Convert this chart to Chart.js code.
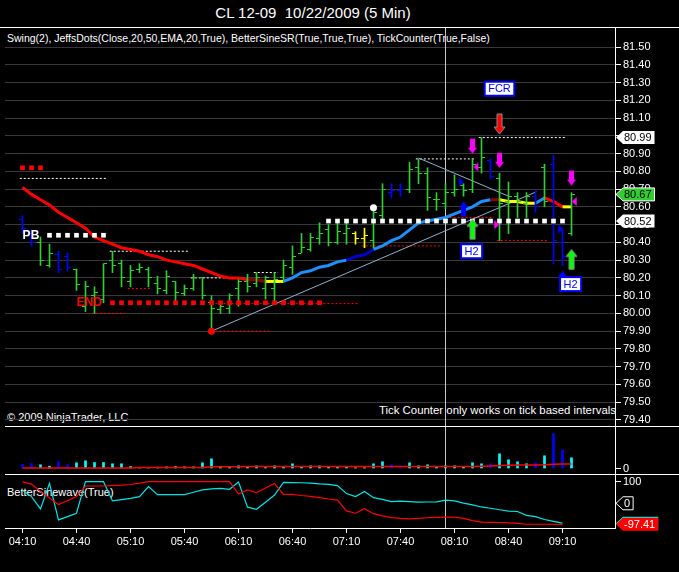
<!DOCTYPE html>
<html>
<head>
<meta charset="utf-8">
<title>CL 12-09 10/22/2009 (5 Min)</title>
<script src="https://cdn.jsdelivr.net/npm/chart.js@4.4.0/dist/chart.umd.min.js"></script>
<style>
  html, body { margin: 0; padding: 0; background: #000; }
  #wrap { position: relative; width: 679px; height: 572px; background: #000; overflow: hidden;
          font-family: "Liberation Sans", Arial, sans-serif; color: #fff; }
  #wrap canvas { position: absolute; left: 0; z-index: 1; }
  .txt { position: absolute; white-space: nowrap; font-size: 11px; line-height: 13px; z-index: 0; }
  .rule { position: absolute; height: 1px; background: #fff; z-index: 2; }
</style>
</head>
<body>
<div id="wrap">
  <div class="txt" style="left:0;width:626px;top:4px;font-size:15px;line-height:18px;text-align:center">CL 12-09&nbsp; 10/22/2009 (5 Min)</div>
  <div class="rule" style="left:0;width:679px;top:27px"></div>
  <div class="txt" style="left:7px;top:32px;font-size:10.5px">Swing(2), JeffsDots(Close,20,50,EMA,20,True), BetterSineSR(True,True,True), TickCounter(True,False)</div>
  <div class="txt" style="left:7px;top:411px">© 2009 NinjaTrader, LLC</div>
  <div class="txt" style="left:379px;width:240px;top:404px;font-size:11.4px;overflow:hidden">Tick Counter only works on tick based intervals</div>
  <div class="rule" style="left:5px;width:674px;top:426px"></div>
  <div class="rule" style="left:5px;width:674px;top:474px"></div>
  <div class="txt" style="left:7px;top:486px">BetterSinewave(True)</div>
  <canvas id="main" width="679" height="398" style="top:28px"></canvas>
  <canvas id="vol" width="679" height="47" style="top:427px"></canvas>
  <canvas id="sine" width="679" height="97" style="top:475px"></canvas>
</div>
<script>
Chart.defaults.font.family = '"Liberation Sans", Arial, sans-serif';
Chart.defaults.font.size = 11;
Chart.defaults.color = '#fff';

// --- datos de las barras (5 min, 04:10 .. 09:15) ---
const opens = [80.53,80.45,80.40,80.27,80.33,80.32,80.25,80.04,80.10,80.08,
  80.30,80.28,80.18,80.25,80.25,80.17,80.13,80.18,80.11,80.14,
  80.20,80.06,80.02,80.03,80.14,80.18,80.17,80.14,80.14,80.20,
  80.26,80.34,80.36,80.42,80.47,80.40,80.45,80.45,80.42,80.41,
  80.55,80.68,80.69,80.70,80.82,80.79,80.64,80.62,80.68,80.72,
  80.70,80.82,80.86,80.76,80.63,80.66,80.62,80.66,80.82,80.84,
  80.40,80.45];
const highs = [80.55,80.47,80.43,80.39,80.35,80.34,80.25,80.18,80.15,80.28,
  80.35,80.30,80.27,80.28,80.26,80.21,80.24,80.18,80.16,80.22,
  80.20,80.10,80.06,80.11,80.19,80.22,80.23,80.21,80.23,80.30,
  80.38,80.45,80.45,80.51,80.50,80.53,80.51,80.46,80.48,80.59,
  80.73,80.73,80.73,80.85,80.87,80.82,80.68,80.73,80.78,80.73,
  80.87,80.99,80.87,80.79,80.74,80.68,80.68,80.69,80.84,80.89,
  80.47,80.68];
const lows = [80.45,80.38,80.27,80.26,80.23,80.24,80.13,80.01,80.00,80.06,
  80.23,80.15,80.15,80.23,80.15,80.11,80.11,80.06,80.10,80.13,
  80.08,79.90,80.00,80.00,80.04,80.12,80.15,80.08,80.06,80.19,
  80.22,80.34,80.35,80.39,80.38,80.39,80.39,80.39,80.37,80.37,
  80.53,80.65,80.66,80.68,80.73,80.58,80.58,80.59,80.66,80.66,
  80.68,80.79,80.76,80.41,80.45,80.54,80.54,80.57,80.60,80.28,
  80.27,80.44];
const closes = [80.48,80.40,80.30,80.34,80.25,80.26,80.16,80.15,80.12,80.28,
  80.27,80.20,80.24,80.26,80.20,80.14,80.21,80.12,80.14,80.20,
  80.10,80.03,80.04,80.10,80.18,80.15,80.20,80.20,80.19,80.27,
  80.32,80.37,80.43,80.45,80.40,80.46,80.48,80.42,80.44,80.57,
  80.70,80.69,80.70,80.81,80.79,80.65,80.64,80.68,80.70,80.69,
  80.84,80.88,80.77,80.62,80.66,80.63,80.66,80.60,80.63,80.41,
  80.32,80.67];
// estado de color de cada barra: g verde, b azul, y amarillo
const barState = ('bbggbbgggg' + 'gggggggggg' + 'gggggggggg' + 'gggggggyyg' +
  'gbbggggggg' + 'ggbggggbgb' + 'bg').split('');

// media (JeffsDots) y estado de cada tramo
const ema = [80.71,80.67,80.64,80.61,80.57,80.54,80.51,80.48,80.43,80.41,
  80.39,80.37,80.36,80.35,80.33,80.32,80.30,80.29,80.28,80.27,
  80.25,80.23,80.21,80.20,80.20,80.19,80.19,80.18,80.18,80.18,
  80.20,80.23,80.24,80.26,80.27,80.29,80.30,80.32,80.33,80.36,
  80.38,80.41,80.43,80.47,80.51,80.52,80.53,80.54,80.56,80.58,
  80.60,80.63,80.64,80.64,80.63,80.63,80.62,80.62,80.65,80.63,
  80.60,80.60];
const emaState = ('RRRRRRRRRR' + 'RRRRRRRRRR' + 'RRRRRrrYYB' + 'BBBBBBbbbB' +
  'BBBBBBBBBB' + 'BBrYYYYBRR' + 'Y-').split('');

// puntos grandes (nivel por barra) y su color
const dotLevel = [80.82,80.82,80.82,80.44,80.44,80.44,80.44,80.44,80.44,80.44,
  80.06,80.06,80.06,80.06,80.06,80.06,80.06,80.06,80.06,80.06,
  80.06,80.06,80.06,80.06,80.06,80.06,80.06,80.06,80.06,80.06,
  80.06,80.06,80.06,80.06,80.52,80.52,80.52,80.52,80.52,80.52,
  80.52,80.52,80.52,80.52,80.52,80.52,80.52,80.52,80.52,80.52,
  80.52,80.52,80.52,80.52,80.52,80.52,80.52,80.52,80.52,80.52,
  80.52,null];
const dotKind = ('rrrwwwwwww' + 'rrrrrrrrrr' + 'rrrrrrrrrr' + 'rrrrwwwwww' +
  'wwwwwwwwww' + 'wwwwwwwwww' + 'w-').split('');

// niveles de swing (lineas punteadas finas)
const whiteLevelFrom  = [-0.3, 9.7, 18.7, 25.7, 43.7, 50.7];
const whiteLevelTo    = [9.4, 18.4, 24.4, 28.4, 50.3, 60.4];
const whiteLevelPrice = [80.76, 80.35, 80.20, 80.23, 80.87, 80.99];
const redLevelFrom  = [7.7, 11.7, 21.0, 21.0, 37.7, 47.0, 52.7];
const redLevelTo    = [11.4, 14.4, 37.4, 27.4, 46.4, 52.4, 58.4];
const redLevelPrice = [80.00, 80.14, 80.055, 79.90, 80.38, 80.54, 80.41];

// lineas de tendencia
const trendFromBar = [21, 44];
const trendFromPrice = [79.90, 80.875];
const trendToBar = [57.1, 54];
const trendToPrice = [80.685, 80.66];

// puntos de swing
const swingBar = [21, 39];
const swingPrice = [79.90, 80.595];
const swingKind = ['r', 'w'];

// flechas y banderitas
const arrowBar   = [50, 53, 61, 53, 49, 60, 50, 61];
const arrowPrice = [80.90, 80.82, 80.72, 81.01, 80.63, 80.24, 80.53, 80.36];
const arrowKind  = ['magDown', 'magDown', 'magDown', 'redDown', 'blueUp', 'blueUp', 'greenUp', 'greenUp'];
const flagBar   = [48.75, 50.37, 52.7, 59.8, 61.3];
const flagPrice = [80.74, 80.825, 80.50, 80.475, 80.63];
const flagKind  = ['blueR', 'magL', 'magR', 'blueR', 'magL'];

// textos sobre el grafico
const noteText  = ['PB', 'END', 'FCR', 'H2', 'H2'];
const noteBar   = [0.94, 7.44, 53, 49.9, 60.9];
const notePrice = [80.44, 80.065, 81.265, 80.35, 80.165];
const noteKind  = ['pb', 'end', 'box', 'box', 'box'];

const priceMarks = [80.99, 80.52];
const cursorBar = 47;

// volumen (TickCounter) y su media
const volume = [430,500,370,230,670,370,570,770,600,600,
  470,470,200,100,70,130,170,200,170,170,
  570,970,170,130,270,170,270,100,270,200,
  470,200,270,270,200,170,170,70,70,470,
  670,370,200,570,270,370,200,270,270,200,
  570,470,470,1470,870,670,470,570,1270,3470,
  1870,1070];
const volumeAvg = [60,60,60,60,60,60,60,60,60,60,
  60,60,60,90,90,90,90,90,90,90,
  90,170,170,170,170,200,200,200,200,200,
  200,200,200,200,200,200,200,190,190,190,
  190,190,190,190,190,190,190,190,190,190,
  200,230,260,300,330,340,350,360,380,430,
  450,460];

// BetterSinewave
const sineCyan = [60,31,-26,92,-77,-62,-46,100,100,100,
  11,17,23,31,77,40,40,40,40,51,
  62,67,69,65,99,-18,-28,5,38,97,
  96,95,93,90,88,82,45,31,55,26,
  18,8,10,8,5,6,7,15,11,1,
  -7,-17,-23,-30,-36,-38,-56,-62,-75,-84,
  -92,null];
const sineRed = [99,89,55,25,-6,12,31,80,80,80,
  82,84,87,93,100,100,100,100,100,100,
  100,100,100,100,43,62,49,71,92,41,
  41,36,32,26,20,15,-35,-46,-25,-48,
  -58,-66,-70,-72,-70,-67,-65,-64,-64,-70,
  -80,-87,-88,-89,-91,-93,-97,-97,-97,-97,
  -97.41,null];
const sineMarks = [0];

// ejes
const priceTicks = [79.4,79.5,79.6,79.7,79.8,79.9,80.0,80.1,80.2,80.3,80.4,
  80.5,80.6,80.7,80.8,80.9,81.0,81.1,81.2,81.3,81.4,81.5];
const tickBars = [0, 6, 12, 18, 24, 30, 36, 42, 48, 54, 60];
const tickLabels = ['04:10','04:40','05:10','05:40','06:10','06:40','07:10','07:40','08:10','08:40','09:10'];

// --- estilos ---
const X_MIN = -1.944, X_MAX = 65.833;
const PRICE_MIN = 79.366, PRICE_MAX = 81.607;
const VOL_MIN = -550, VOL_MAX = 4150;
const SINE_MIN = -114.4, SINE_MAX = 131;
const FONT = '"Liberation Sans", Arial, sans-serif';
// lineHeight casi cero: asi el eje no reserva margen arriba/abajo
const Y_FONT = { size: 11, lineHeight: 0.01 };

const BAR_COL = { g: '#32cd32', b: '#0000ff', y: '#ffff00' };
const VOL_COL = { g: '#00ffff', b: '#0000ff', y: '#ffff00' };
const EMA_COL = { R: '#ff0000', r: '#8b0000', Y: '#ffff00', B: '#1e90ff', b: '#0000cd' };

function tickImg(color, left) {
  const c = document.createElement('canvas'); c.width = 7; c.height = 1;
  const g = c.getContext('2d'); g.fillStyle = color;
  g.fillRect(left ? 0 : 4, 0, 3, 1);
  return c;
}
const OPEN_IMG = {}, CLOSE_IMG = {};
Object.keys(BAR_COL).forEach(k => { OPEN_IMG[k] = tickImg(BAR_COL[k], true); CLOSE_IMG[k] = tickImg(BAR_COL[k], false); });

// flecha con la punta en el centro de la imagen
function arrowImg(color, outline, len, headW, headH, shaftW, down) {
  const w = headW + 2, h = len * 2 + 2;
  const c = document.createElement('canvas'); c.width = w; c.height = h;
  const g = c.getContext('2d');
  const cx = w / 2, cy = h / 2;
  if (!down) { g.translate(0, h); g.scale(1, -1); }
  g.beginPath();
  g.moveTo(cx, cy);
  g.lineTo(cx - headW / 2, cy - headH);
  g.lineTo(cx - shaftW / 2, cy - headH);
  g.lineTo(cx - shaftW / 2, cy - len);
  g.lineTo(cx + shaftW / 2, cy - len);
  g.lineTo(cx + shaftW / 2, cy - headH);
  g.lineTo(cx + headW / 2, cy - headH);
  g.closePath();
  g.fillStyle = color; g.fill();
  if (outline) { g.strokeStyle = outline; g.lineWidth = 1; g.stroke(); }
  return c;
}
const ARROWS = {
  magDown: arrowImg('#ff00ff', null, 15, 9, 6, 5, true),
  redDown: arrowImg('#ff0000', '#909090', 20, 11, 7, 5, true),
  blueUp: arrowImg('#0000ff', null, 15, 9, 6, 5, false),
  greenUp: arrowImg('#00ff00', '#909090', 20, 11, 7, 5, false)
};

function triImg(color, right) {
  const c = document.createElement('canvas'); c.width = 7; c.height = 11;
  const g = c.getContext('2d');
  g.beginPath();
  if (right) { g.moveTo(1, 1); g.lineTo(6, 5.5); g.lineTo(1, 10); }
  else { g.moveTo(6, 1); g.lineTo(1, 5.5); g.lineTo(6, 10); }
  g.closePath(); g.fillStyle = color; g.fill();
  return c;
}
const FLAGS = { blueR: triImg('#0000ff', true), magL: triImg('#ff00ff', false), magR: triImg('#ff00ff', true) };

function levelData(from, to, p1, p2) {
  const out = [];
  from.forEach((s, i) => { out.push({ x: s, y: p1[i] }, { x: to[i], y: p2[i] }, { x: to[i], y: null }); });
  return out;
}

function fixYAxis(scale) { scale.width = 64; scale.paddingTop = 0; scale.paddingBottom = 0; }

function drawAxisFlag(ctx, x, y, text, fill, color, stroke) {
  ctx.save();
  ctx.font = '11px ' + FONT;
  const w = ctx.measureText(text).width + 12;
  ctx.beginPath();
  ctx.moveTo(x + 1, y); ctx.lineTo(x + 8, y - 6.5); ctx.lineTo(x + w, y - 6.5);
  ctx.lineTo(x + w, y + 6.5); ctx.lineTo(x + 8, y + 6.5); ctx.closePath();
  ctx.fillStyle = fill; ctx.fill();
  if (stroke) { ctx.strokeStyle = stroke; ctx.lineWidth = 1; ctx.stroke(); }
  ctx.fillStyle = color; ctx.textBaseline = 'middle'; ctx.textAlign = 'left';
  ctx.fillText(text, x + 9, y + 0.5);
  ctx.restore();
}

// autoPadding apagado: si no, los puntos empujan el area del grafico hacia dentro
const baseOptions = () => ({
  responsive: false, animation: false, devicePixelRatio: 1, events: [],
  layout: { autoPadding: false, padding: { left: 5, right: 0, top: 0, bottom: 0 } },
  plugins: { legend: { display: false }, tooltip: { enabled: false } }
});

const pt = (arr) => arr.map((v, i) => ({ x: i, y: v }));

// --- grafico principal ---
const notesPlugin = {
  id: 'notes',
  afterDatasetsDraw(chart) {
    const { ctx, scales: { x, y } } = chart;
    ctx.save();
    noteText.forEach((t, i) => {
      const px = x.getPixelForValue(noteBar[i]), py = y.getPixelForValue(notePrice[i]);
      ctx.textAlign = 'center'; ctx.textBaseline = 'middle';
      if (noteKind[i] === 'box') {
        ctx.font = '11px ' + FONT;
        const w = ctx.measureText(t).width + 7, h = 14;
        ctx.fillStyle = '#ffffff'; ctx.fillRect(px - w / 2, py - h / 2, w, h);
        ctx.strokeStyle = '#0000ff'; ctx.lineWidth = 2; ctx.strokeRect(px - w / 2, py - h / 2, w, h);
        ctx.fillStyle = '#0000ff'; ctx.fillText(t, px, py + 0.5);
      } else {
        ctx.font = 'bold 12px ' + FONT;
        ctx.fillStyle = noteKind[i] === 'pb' ? '#ffffff' : '#ff0000';
        ctx.fillText(t, px, py + 0.5);
      }
    });
    ctx.restore();
  },
  afterDraw(chart) {
    const { ctx, chartArea, scales: { y } } = chart;
    priceMarks.forEach(v => drawAxisFlag(ctx, chartArea.right, y.getPixelForValue(v), v.toFixed(2), '#ffffff', '#000000', null));
    const last = closes[closes.length - 1];
    drawAxisFlag(ctx, chartArea.right, y.getPixelForValue(last), last.toFixed(2), '#33cc33', '#000000', '#ffffff');
  }
};

new Chart(document.getElementById('main'), {
  type: 'line',
  data: {
    datasets: [
      { // cursor
        data: [{ x: cursorBar, y: PRICE_MIN }, { x: cursorBar, y: PRICE_MAX }],
        borderColor: '#c8c8c8', borderWidth: 1, pointRadius: 0, order: 12
      },
      {
        data: levelData(whiteLevelFrom, whiteLevelTo, whiteLevelPrice, whiteLevelPrice),
        borderColor: '#ffffff', borderWidth: 1, borderDash: [2, 2], pointRadius: 0, spanGaps: false, order: 11
      },
      {
        data: levelData(redLevelFrom, redLevelTo, redLevelPrice, redLevelPrice),
        borderColor: '#ff0000', borderWidth: 1, borderDash: [2, 2], pointRadius: 0, spanGaps: false, order: 10
      },
      {
        data: levelData(trendFromBar, trendToBar, trendFromPrice, trendToPrice),
        borderColor: '#8fb0d0', borderWidth: 1, pointRadius: 0, spanGaps: false, order: 9
      },
      {
        data: pt(ema), borderWidth: 3, pointRadius: 0, borderColor: '#ff0000',
        segment: { borderColor: c => EMA_COL[emaState[c.p0DataIndex]] }, order: 8
      },
      {
        type: 'bar', data: highs.map((h, i) => ({ x: i, y: [lows[i], h] })),
        backgroundColor: barState.map(s => BAR_COL[s]), borderWidth: 0, barThickness: 1, order: 7
      },
      {
        data: pt(opens), showLine: false, pointRadius: 3,
        pointStyle: c => OPEN_IMG[barState[c.dataIndex]], order: 6
      },
      {
        data: pt(closes), showLine: false, pointRadius: 3,
        pointStyle: c => CLOSE_IMG[barState[c.dataIndex]], order: 6
      },
      {
        data: pt(dotLevel), showLine: false, pointStyle: 'rect', pointRadius: 3.3, pointBorderWidth: 0,
        pointBackgroundColor: c => dotKind[c.dataIndex] === 'r' ? '#ff0000' : '#ffffff', order: 5
      },
      {
        data: swingBar.map((b, i) => ({ x: b, y: swingPrice[i] })), showLine: false, pointRadius: 3.5,
        pointBorderWidth: 0, pointBackgroundColor: c => swingKind[c.dataIndex] === 'r' ? '#ff0000' : '#ffffff', order: 4
      },
      {
        data: arrowBar.map((b, i) => ({ x: b, y: arrowPrice[i] })), showLine: false, pointRadius: 3,
        pointStyle: c => ARROWS[arrowKind[c.dataIndex]], order: 3
      },
      {
        data: flagBar.map((b, i) => ({ x: b, y: flagPrice[i] })), showLine: false, pointRadius: 3,
        pointStyle: c => FLAGS[flagKind[c.dataIndex]], order: 2
      }
    ]
  },
  options: Object.assign(baseOptions(), {
    scales: {
      x: { type: 'linear', min: X_MIN, max: X_MAX, display: false, offset: false },
      y: {
        type: 'linear', position: 'right', min: PRICE_MIN, max: PRICE_MAX,
        afterBuildTicks: s => { s.ticks = priceTicks.map(v => ({ value: v })); },
        afterFit: fixYAxis,
        grid: { color: '#383838', tickColor: '#ffffff', tickLength: 6 },
        border: { color: '#ffffff' },
        ticks: { color: '#ffffff', padding: 2, autoSkip: false, font: Y_FONT, callback: v => Number(v).toFixed(2) }
      }
    }
  }),
  plugins: [notesPlugin]
});

// --- volumen ---
new Chart(document.getElementById('vol'), {
  type: 'line',
  data: {
    datasets: [
      {
        data: [{ x: cursorBar, y: VOL_MIN }, { x: cursorBar, y: VOL_MAX }],
        borderColor: '#c8c8c8', borderWidth: 1, pointRadius: 0, order: 3
      },
      { data: pt(volumeAvg), borderColor: '#ff0000', borderWidth: 1.5, pointRadius: 0, order: 1 },
      {
        type: 'bar', data: pt(volume), backgroundColor: barState.map(s => VOL_COL[s]),
        borderWidth: 0, barThickness: 2, order: 2
      }
    ]
  },
  options: Object.assign(baseOptions(), {
    scales: {
      x: { type: 'linear', min: X_MIN, max: X_MAX, display: false, offset: false },
      y: {
        type: 'linear', position: 'right', min: VOL_MIN, max: VOL_MAX,
        afterBuildTicks: s => { s.ticks = [{ value: 0 }]; },
        afterFit: fixYAxis,
        grid: { drawOnChartArea: false, tickColor: '#ffffff', tickLength: 6 },
        border: { color: '#ffffff' },
        ticks: { color: '#ffffff', padding: 2, font: Y_FONT, callback: v => String(v) }
      }
    }
  })
});

// --- BetterSinewave ---
const sineFlagsPlugin = {
  id: 'sineFlags',
  afterDraw(chart) {
    const { ctx, chartArea, scales: { y } } = chart;
    sineMarks.forEach(v => drawAxisFlag(ctx, chartArea.right, y.getPixelForValue(v), String(v), '#000000', '#ffffff', '#ffffff'));
    const lastCyan = sineCyan.filter(v => v !== null).pop();
    const lastRed = sineRed.filter(v => v !== null).pop();
    drawAxisFlag(ctx, chartArea.right, y.getPixelForValue(lastCyan), lastCyan.toFixed(2), '#00ffff', '#000000', null);
    drawAxisFlag(ctx, chartArea.right, y.getPixelForValue(lastRed), lastRed.toFixed(2), '#ff0000', '#ffffff', null);
  }
};

new Chart(document.getElementById('sine'), {
  type: 'line',
  data: {
    datasets: [
      {
        data: [{ x: cursorBar, y: SINE_MIN }, { x: cursorBar, y: SINE_MAX }],
        borderColor: '#c8c8c8', borderWidth: 1, pointRadius: 0, order: 3
      },
      { data: pt(sineCyan), borderColor: '#00e5e5', borderWidth: 1.2, pointRadius: 0, order: 2 },
      { data: pt(sineRed), borderColor: '#ff0000', borderWidth: 1.2, pointRadius: 0, order: 1 }
    ]
  },
  options: Object.assign(baseOptions(), {
    scales: {
      x: {
        type: 'linear', min: X_MIN, max: X_MAX, offset: false,
        afterBuildTicks: s => { s.ticks = tickBars.map(v => ({ value: v })); },
        afterFit: s => { s.height = 44; s.paddingLeft = 0; s.paddingRight = 0; },
        grid: { drawOnChartArea: false, tickColor: '#ffffff', tickLength: 5 },
        border: { color: '#ffffff' },
        ticks: { color: '#ffffff', padding: 2, autoSkip: false, maxRotation: 0,
                 callback: v => tickLabels[tickBars.indexOf(v)] }
      },
      y: {
        type: 'linear', position: 'right', min: SINE_MIN, max: SINE_MAX,
        afterBuildTicks: s => { s.ticks = [{ value: 100 }]; },
        afterFit: fixYAxis,
        grid: { drawOnChartArea: false, tickColor: '#ffffff', tickLength: 6 },
        border: { color: '#ffffff' },
        ticks: { color: '#ffffff', padding: 2, font: Y_FONT, callback: v => String(v) }
      }
    }
  }),
  plugins: [sineFlagsPlugin]
});
</script>
</body>
</html>
